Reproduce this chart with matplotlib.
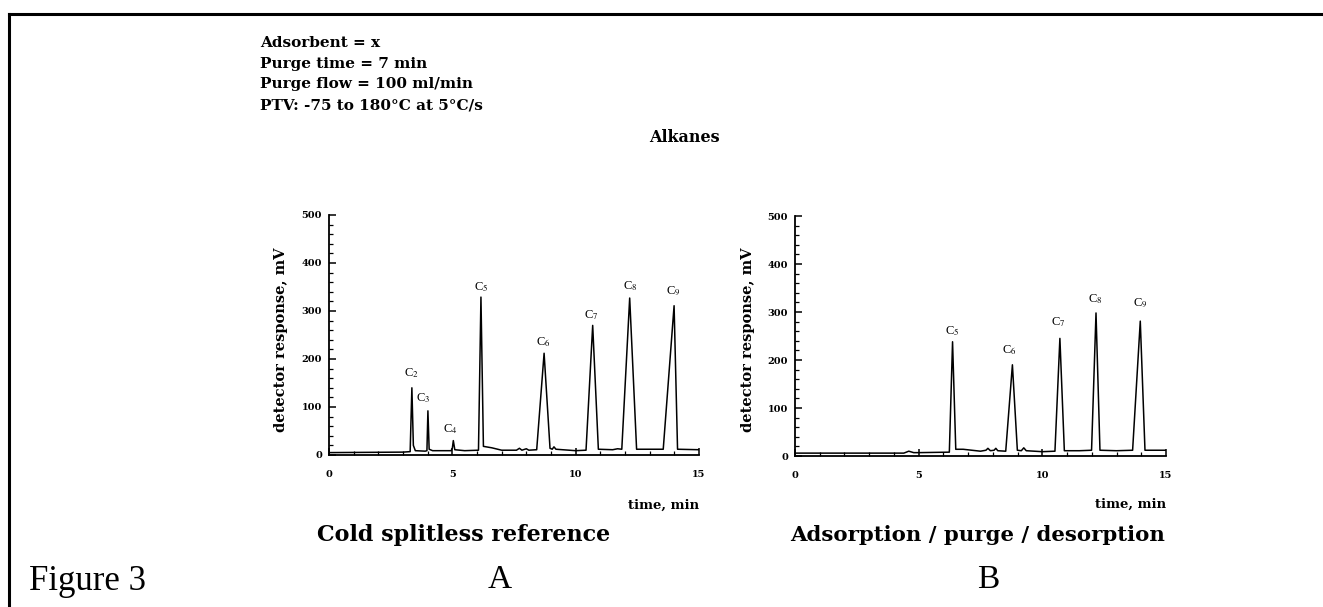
import matplotlib
matplotlib.use("Agg")
import matplotlib.pyplot as plt
from matplotlib.lines import Line2D
from matplotlib.ticker import MultipleLocator

plt.rcParams['font.family'] = ['Liberation Serif', 'DejaVu Serif']
plt.rcParams['mathtext.fontset'] = 'stix'
BOLD = ['DejaVu Serif']

# ---- data ----
# Panel A: cold splitless reference (time in min, response in mV)
time_a = [0.0, 3.0, 3.29, 3.36, 3.42, 3.50, 3.90, 3.97, 4.01, 4.06, 4.20, 4.95, 5.00, 5.04,
          5.10, 5.50, 6.06, 6.16, 6.26, 6.60, 7.00, 7.60, 7.72, 7.82, 8.00, 8.10, 8.42, 8.72,
          8.96, 9.05, 9.12, 9.20, 10.00, 10.42, 10.69, 10.92, 11.50, 11.70, 11.87, 12.19,
          12.47, 13.00, 13.55, 13.99, 14.13, 15.0]
resp_a = [5, 6, 7, 140, 20, 9, 8, 9, 92, 12, 9, 9, 14, 30, 11, 9, 10, 329, 18, 15, 10, 10,
          14, 10, 13, 10, 11, 212, 14, 12, 17, 12, 9, 10, 270, 12, 11, 13, 12, 327, 12, 12,
          12, 311, 12, 11]
peaks_a_time = [3.36, 3.81, 4.91, 6.16, 8.67, 10.65, 12.20, 13.96]
peaks_a_label_y = [170, 118, 54, 350, 236, 291, 352, 341]
peaks_a_names = ['2', '3', '4', '5', '6', '7', '8', '9']

# Panel B: adsorption / purge / desorption
time_b = [0.0, 4.40, 4.60, 4.80, 5.00, 6.24, 6.37, 6.50, 6.80, 7.50, 7.72, 7.80, 7.90, 8.05,
          8.12, 8.20, 8.52, 8.79, 8.99, 9.15, 9.25, 9.35, 10.0, 10.51, 10.71, 10.89, 11.50,
          11.99, 12.17, 12.33, 13.00, 13.65, 13.96, 14.15, 15.0]
resp_b = [6, 6, 10, 7, 7, 8, 238, 14, 14, 10, 12, 16, 11, 12, 16, 11, 10, 190, 12, 11, 17,
          11, 9, 10, 245, 11, 11, 12, 298, 12, 11, 12, 281, 12, 12]
peaks_b_time = [6.35, 8.67, 10.65, 12.13, 13.95]
peaks_b_label_y = [261, 221, 279, 327, 317]
peaks_b_names = ['5', '6', '7', '8', '9']

x_ticks = [0, 5, 10, 15]
y_ticks = [0, 100, 200, 300, 400, 500]

info_lines = ["Adsorbent = x", "Purge time = 7 min", "Purge flow = 100 ml/min",
              "PTV: -75 to 180°C at 5°C/s"]

W, H = 1323, 607
fig = plt.figure(figsize=(W / 100, H / 100), dpi=100)


def fx(px):
    return px / W


def fy(py):
    return 1 - py / H


def make_axes(left, right, bottom, top, t, r, lt, ly, names):
    ax = fig.add_axes([fx(left), fy(bottom), fx(right - left), fy(top) - fy(bottom)])
    ax.plot(t, r, color='black', lw=1.1)
    ax.set_xlim(0, 15)
    ax.set_ylim(0, 500)
    ax.set_xticks(x_ticks)
    ax.set_yticks(y_ticks)
    ax.xaxis.set_minor_locator(MultipleLocator(1))
    ax.yaxis.set_minor_locator(MultipleLocator(20))
    ax.spines['top'].set_visible(False)
    ax.spines['right'].set_visible(False)
    for s in ('left', 'bottom'):
        ax.spines[s].set_linewidth(1.3)
    ax.tick_params(which='major', direction='in', length=5, width=1.1)
    ax.tick_params(which='minor', direction='in', length=3, width=0.9)
    ax.tick_params(axis='x', pad=11)
    ax.tick_params(axis='y', pad=5)
    for lab in ax.get_xticklabels() + ax.get_yticklabels():
        lab.set_fontweight('bold')
        lab.set_fontsize(7)
        lab.set_family(BOLD)
    for x, y, n in zip(lt, ly, names):
        ax.text(x, y, 'C$_{%s}$' % n, ha='center', va='center', fontsize=9)
    ax.patch.set_alpha(0)
    return ax


make_axes(329, 699, 455, 215, time_a, resp_a, peaks_a_time, peaks_a_label_y, peaks_a_names)
make_axes(795, 1166, 456, 216, time_b, resp_b, peaks_b_time, peaks_b_label_y, peaks_b_names)

# y labels
fig.text(fx(281), fy(340), 'detector response, mV', rotation=90, ha='center', va='center',
         fontsize=10.5, fontweight='bold', family=BOLD)
fig.text(fx(748), fy(340), 'detector response, mV', rotation=90, ha='center', va='center',
         fontsize=10.5, fontweight='bold', family=BOLD)
# x labels
fig.text(fx(699), fy(505), 'time, min', ha='right', va='center', fontsize=9.5,
         fontweight='bold', family=BOLD)
fig.text(fx(1166), fy(504), 'time, min', ha='right', va='center', fontsize=9.5,
         fontweight='bold', family=BOLD)

# info block
for i, line in enumerate(info_lines):
    fig.text(fx(260), fy(43 + i * 20.7), line, ha='left', va='center', fontsize=11,
             fontweight='bold', family=BOLD)

fig.text(fx(684), fy(138), 'Alkanes', ha='center', va='center', fontsize=11.5,
         fontweight='bold', family=BOLD)

fig.text(fx(464), fy(535), 'Cold splitless reference', ha='center', va='center',
         fontsize=16, fontweight='bold', family=BOLD)
fig.text(fx(978), fy(535), 'Adsorption / purge / desorption', ha='center', va='center',
         fontsize=15.3, fontweight='bold', family=BOLD)
fig.text(fx(500), fy(580), 'A', ha='center', va='center', fontsize=24)
fig.text(fx(988), fy(580), 'B', ha='center', va='center', fontsize=24)
fig.text(fx(29), fy(582), 'Figure 3', ha='left', va='center', fontsize=25)

# frame
fig.add_artist(Line2D([fx(9), 1.0], [fy(14), fy(14)], color='black', lw=2.2))
fig.add_artist(Line2D([fx(9), fx(9)], [fy(14), 0.0], color='black', lw=2.2))

fig.savefig('out.png', dpi=100, facecolor='white')
